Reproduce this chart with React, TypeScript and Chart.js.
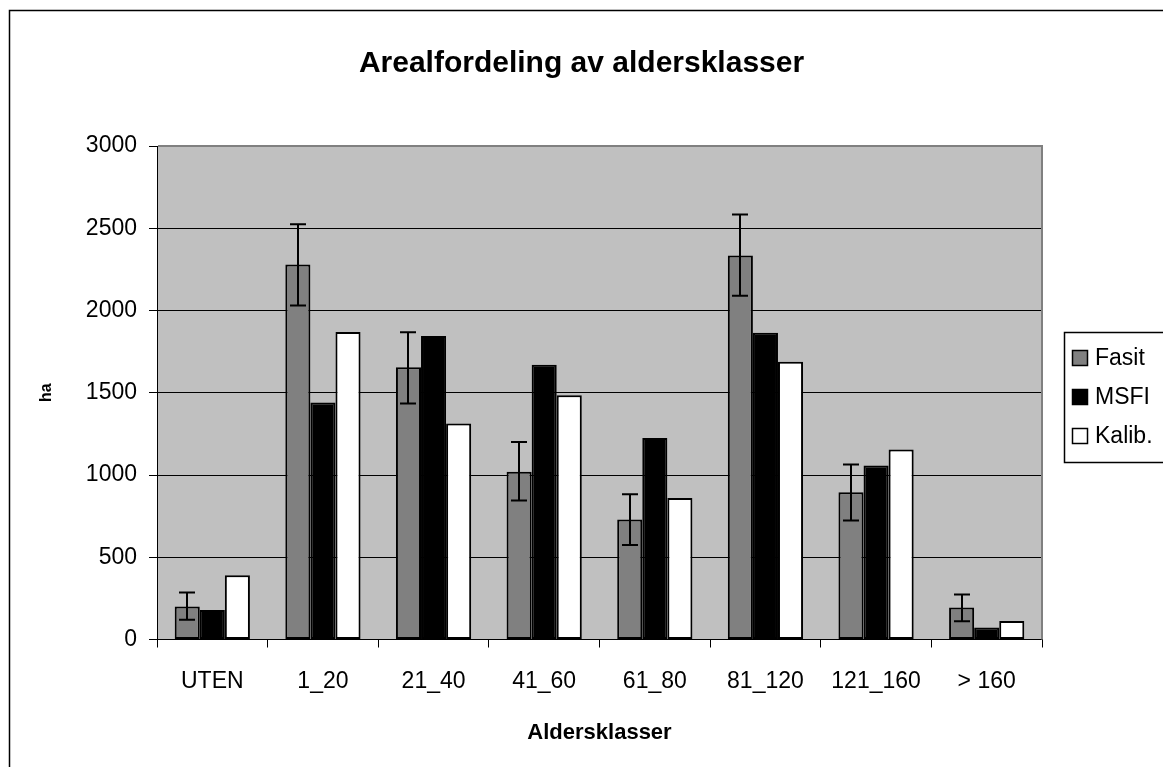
import React, { useEffect, useRef } from 'react';
import { Chart, registerables } from 'chart.js';

Chart.register(...registerables);

const categories = ['UTEN', '1_20', '21_40', '41_60', '61_80', '81_120', '121_160', '> 160'];
const seriesNames = ['Fasit', 'MSFI', 'Kalib.'];
const fasit = [200, 2280, 1655, 1020, 730, 2335, 895, 195];
const msfi = [180, 1440, 1845, 1670, 1225, 1865, 1058, 73];
const kalib = [390, 1870, 1313, 1485, 860, 1688, 1155, 113];
const fasitErrHigh = [285, 2525, 1868, 1200, 883, 2584, 1064, 274];
const fasitErrLow = [120, 2030, 1435, 845, 575, 2089, 723, 111];
const yMin = 0;
const yMax = 3000;
const yStep = 500;

const FONT = "'Liberation Sans', Arial, sans-serif";
const W = 1163;
const H = 767;

const backgroundPlugin = {
  id: 'plotBackground',
  beforeDraw(chart: any) {
    const { ctx, chartArea } = chart;
    ctx.save();
    ctx.fillStyle = '#ffffff';
    ctx.fillRect(0, 0, chart.width, chart.height);
    ctx.strokeStyle = '#000';
    ctx.lineWidth = 1.5;
    ctx.strokeRect(9.5, 10.5, 2000, 2000);
    ctx.fillStyle = '#C0C0C0';
    ctx.fillRect(chartArea.left, chartArea.top, chartArea.right - chartArea.left, chartArea.bottom - chartArea.top);
    ctx.restore();
  },
  afterDraw(chart: any) {
    const { ctx, chartArea } = chart;
    ctx.save();
    ctx.strokeStyle = '#808080';
    ctx.lineWidth = 2;
    ctx.beginPath();
    ctx.moveTo(chartArea.left + 1, chartArea.top);
    ctx.lineTo(chartArea.right, chartArea.top);
    ctx.lineTo(chartArea.right, chartArea.bottom);
    ctx.stroke();
    ctx.restore();
  },
};

const errorBarPlugin = {
  id: 'errorBars',
  afterDatasetsDraw(chart: any) {
    const { ctx } = chart;
    const meta = chart.getDatasetMeta(0);
    const yScale = chart.scales.y;
    ctx.save();
    ctx.strokeStyle = '#000';
    ctx.lineWidth = 2;
    meta.data.forEach((bar: any, i: number) => {
      const x = Math.round(bar.x);
      const yHi = yScale.getPixelForValue(fasitErrHigh[i]);
      const yLo = yScale.getPixelForValue(fasitErrLow[i]);
      ctx.beginPath();
      ctx.moveTo(x, yHi);
      ctx.lineTo(x, yLo);
      ctx.moveTo(x - 8, yHi);
      ctx.lineTo(x + 8, yHi);
      ctx.moveTo(x - 8, yLo);
      ctx.lineTo(x + 8, yLo);
      ctx.stroke();
    });
    ctx.restore();
  },
};

const legendPlugin = {
  id: 'boxLegend',
  afterDraw(chart: any) {
    const { ctx } = chart;
    const boxLeft = 1064.5;
    const boxTop = 332.5;
    const rowH = 39;
    const firstY = 358;
    ctx.save();
    ctx.strokeStyle = '#000';
    ctx.lineWidth = 1.5;
    ctx.fillStyle = '#fff';
    ctx.fillRect(boxLeft, boxTop, 200, 130);
    ctx.strokeRect(boxLeft, boxTop, 200, 130);
    chart.data.datasets.forEach((ds: any, i: number) => {
      const cy = firstY + i * rowH;
      ctx.fillStyle = ds.backgroundColor;
      ctx.fillRect(1072, cy - 8, 16, 16);
      ctx.strokeStyle = '#000';
      ctx.lineWidth = 1.5;
      ctx.strokeRect(1072.5, cy - 7.5, 15, 15);
      ctx.fillStyle = '#000';
      ctx.font = `23px ${FONT}`;
      ctx.textBaseline = 'middle';
      ctx.textAlign = 'left';
      ctx.fillText(ds.label, 1095, cy + 1);
    });
    ctx.restore();
  },
};

export default function App() {
  const ref = useRef<HTMLCanvasElement | null>(null);

  useEffect(() => {
    if (!ref.current) return;
    const barCommon = {
      borderColor: '#000',
      borderWidth: 2,
      borderSkipped: false,
      categoryPercentage: 0.68,
      barPercentage: 1.0,
    };
    const chart = new Chart(ref.current, {
      type: 'bar',
      data: {
        labels: categories,
        datasets: [
          { label: seriesNames[0], data: fasit, backgroundColor: '#808080', ...barCommon },
          { label: seriesNames[1], data: msfi, backgroundColor: '#000000', ...barCommon },
          { label: seriesNames[2], data: kalib, backgroundColor: '#ffffff', ...barCommon },
        ],
      },
      options: {
        responsive: false,
        animation: false,
        devicePixelRatio: 1,
        layout: { padding: 0 },
        plugins: {
          legend: { display: false },
          tooltip: { enabled: false },
          title: {
            display: true,
            text: 'Arealfordeling av aldersklasser',
            color: '#000',
            font: { family: FONT, size: 30, weight: 'bold' },
            padding: { top: 46, bottom: 64 },
          },
        },
        scales: {
          x: {
            type: 'category',
            offset: true,
            grid: {
              display: true,
              drawOnChartArea: false,
              drawTicks: true,
              tickLength: 8,
              color: '#000',
              offset: true,
            },
            border: { display: true, color: '#000', width: 1 },
            ticks: {
              color: '#000',
              font: { family: FONT, size: 23 },
              padding: 20,
              maxRotation: 0,
              autoSkip: false,
            },
            title: {
              display: true,
              text: 'Aldersklasser',
              color: '#000',
              font: { family: FONT, size: 22, weight: 'bold' },
              padding: { top: 0, bottom: 21 },
            },
            afterFit: (s: any) => {
              s.height = H - 639.5;
            },
          },
          y: {
            min: yMin,
            max: yMax,
            grid: {
              color: '#000',
              lineWidth: 1,
              tickLength: 8,
              drawTicks: true,
            },
            border: { display: true, color: '#000', width: 1 },
            ticks: {
              stepSize: yStep,
              color: '#000',
              font: { family: FONT, size: 23 },
              padding: 12,
              callback: (v: any) => String(v),
            },
            title: {
              display: true,
              text: 'ha',
              color: '#000',
              font: { family: FONT, size: 16, weight: 'bold' },
              padding: { top: 37, bottom: 0 },
            },
            afterFit: (s: any) => {
              s.width = 157;
            },
          },
          rightSpace: {
            type: 'linear',
            position: 'right',
            display: true,
            grid: { display: false, drawTicks: false },
            border: { display: false },
            ticks: { display: false },
            afterFit: (s: any) => {
              s.width = W - 1042;
            },
          },
        },
      },
      plugins: [backgroundPlugin, errorBarPlugin, legendPlugin],
    } as any);
    return () => chart.destroy();
  }, []);

  return (
    <div style={{ position: 'fixed', left: 0, top: 0, width: W, height: H, overflow: 'hidden', background: '#fff' }}>
      <canvas ref={ref} width={W} height={H} style={{ display: 'block', width: W, height: H }} />
    </div>
  );
}
